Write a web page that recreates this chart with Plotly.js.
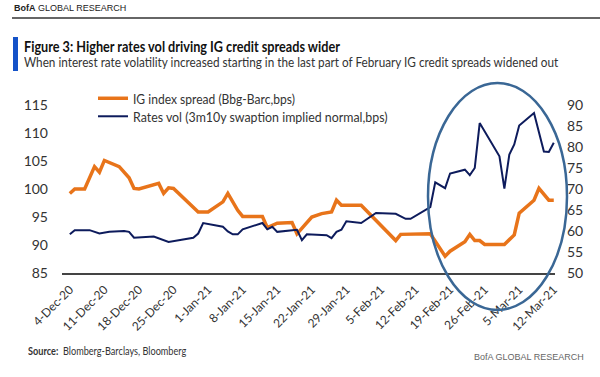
<!DOCTYPE html>
<html>
<head>
<meta charset="utf-8">
<script src="https://cdn.plot.ly/plotly-3.0.1.min.js"></script>
<style>
  html, body { margin: 0; padding: 0; background: #ffffff; }
  #wrap { position: relative; width: 600px; height: 377px; overflow: hidden; }
  #chart { position: absolute; left: 0; top: 0; width: 600px; height: 377px; }
  .txt { position: absolute; white-space: nowrap; transform-origin: 0 50%; line-height: 1; }
  #title { left: 24px; top: 39px; font-family: Lato, sans-serif; font-weight: 700; font-size: 15px; color: #111; }
  #subtitle { left: 24px; top: 56px; font-family: Lato, sans-serif; font-size: 13px; color: #333; }
  #source { left: 28px; top: 345px; font-family: Lato, sans-serif; font-size: 11px; color: #333; }
</style>
</head>
<body>
<div id="wrap">
  <div id="chart"></div>
  <div id="title" class="txt">Figure 3: Higher rates vol driving IG credit spreads wider</div>
  <div id="subtitle" class="txt">When interest rate volatility increased starting in the last part of February IG credit spreads widened out</div>
  <div id="source" class="txt"><b>Source:</b>&nbsp; Blomberg-Barclays, Bloomberg</div>
</div>
<script>
// ---------- DATA ----------
const igDates = ['2020-12-04','2020-12-05','2020-12-07','2020-12-09','2020-12-10','2020-12-11','2020-12-14','2020-12-16','2020-12-17','2020-12-18','2020-12-22','2020-12-23','2020-12-24','2020-12-25','2020-12-30','2021-01-01','2021-01-04','2021-01-05','2021-01-07','2021-01-08','2021-01-12','2021-01-13','2021-01-15','2021-01-18','2021-01-19','2021-01-22','2021-01-24','2021-01-26','2021-01-27','2021-01-28','2021-02-01','2021-02-08','2021-02-09','2021-02-15','2021-02-18','2021-02-19','2021-02-22','2021-02-23','2021-02-24','2021-02-25','2021-02-26','2021-03-02','2021-03-04','2021-03-05','2021-03-08','2021-03-09','2021-03-11','2021-03-12'];
const igSpread = [99.2,100,100,104,103,105.1,104,102,100.1,100,101,99.2,100.2,100.1,95.9,95.9,97.7,99.2,96.2,95.1,95.1,93.1,93.9,94,92,95,95.6,95.9,98,97.1,97.1,90.8,91.9,92,88,88.9,90.6,91.9,90.8,90.8,90.1,90.1,91.8,95.7,98,100.1,98,98];

const volDates = ['2020-12-04','2020-12-05','2020-12-08','2020-12-10','2020-12-12','2020-12-15','2020-12-16','2020-12-17','2020-12-21','2020-12-24','2020-12-29','2020-12-30','2020-12-31','2021-01-04','2021-01-05','2021-01-06','2021-01-07','2021-01-08','2021-01-12','2021-01-13','2021-01-14','2021-01-15','2021-01-19','2021-01-20','2021-01-21','2021-01-25','2021-01-26','2021-01-27','2021-01-28','2021-01-29','2021-02-01','2021-02-04','2021-02-08','2021-02-10','2021-02-11','2021-02-15','2021-02-16','2021-02-18','2021-02-19','2021-02-22','2021-02-23','2021-02-24','2021-02-25','2021-03-01','2021-03-02','2021-03-03','2021-03-04','2021-03-05','2021-03-08','2021-03-10','2021-03-11','2021-03-12'];
const ratesVol = [59.2,60.2,60.2,59.4,59.8,60,59.8,58.4,58.7,57.4,58.4,59.4,61.9,61,59.9,59.2,59.2,60.4,61.9,60.4,61,59.8,60.3,57.8,59.2,59,58.3,59.8,60.3,62.3,61.9,64.3,64.1,62.9,62.9,65.7,71.6,70.2,73.7,74.6,73.3,75,85.7,77.8,70.1,78.2,80.6,85.1,88.1,78.9,78.8,81];

const tickDates = ['2020-12-04','2020-12-11','2020-12-18','2020-12-25','2021-01-01','2021-01-08','2021-01-15','2021-01-22','2021-01-29','2021-02-05','2021-02-12','2021-02-19','2021-02-26','2021-03-05','2021-03-12'];
const tickLabels = ['4-Dec-20','11-Dec-20','18-Dec-20','25-Dec-20','1-Jan-21','8-Jan-21','15-Jan-21','22-Jan-21','29-Jan-21','5-Feb-21','12-Feb-21','19-Feb-21','26-Feb-21','5-Mar-21','12-Mar-21'];

const seriesNames = ['IG index spread (Bbg-Barc,bps)', 'Rates vol (3m10y swaption implied normal,bps)'];

// ---------- LAYOUT HELPERS ----------
const W = 600, H = 377;
const M = { l: 62, r: 45, t: 105, b: 104 };
const PW = W - M.l - M.r, PH = H - M.t - M.b;
const px = x => (x - M.l) / PW;          // pixel -> paper x
const py = y => (H - M.b - y) / PH;      // pixel -> paper y

const FONT = 'Lato, "Liberation Sans", sans-serif';
const ORANGE = '#e8741a';
const NAVY = '#0d1b5c';

const traces = [
  {
    x: volDates, y: ratesVol, name: seriesNames[1], yaxis: 'y2', legend: 'legend2',
    type: 'scatter', mode: 'lines',
    line: { color: NAVY, width: 2 }
  },
  {
    x: igDates, y: igSpread, name: seriesNames[0], yaxis: 'y', legend: 'legend',
    type: 'scatter', mode: 'lines',
    line: { color: ORANGE, width: 3.5 }
  }
];

const legendBase = {
  xanchor: 'left', yanchor: 'top', bgcolor: 'rgba(0,0,0,0)',
  font: { family: FONT, size: 13.5, color: '#333333' }, itemwidth: 30
};

const layout = {
  width: W, height: H,
  margin: M,
  paper_bgcolor: '#ffffff', plot_bgcolor: '#ffffff',
  font: { family: FONT, size: 12.5, color: '#333333' },
  showlegend: true,
  legend: Object.assign({}, legendBase, { x: px(93), y: py(83) }),
  legend2: Object.assign({}, legendBase, { x: px(93), y: py(101) }),
  xaxis: {
    type: 'date',
    range: ['2020-12-02 10:00', '2021-03-12 06:00'],
    tickmode: 'array', tickvals: tickDates, ticktext: tickLabels,
    tickangle: -45, ticks: '', showgrid: false, zeroline: false,
    showline: true, linecolor: '#444444', linewidth: 2,
    tickfont: { family: FONT, size: 12, color: '#333333' },
    ticklabelstandoff: 3
  },
  yaxis: {
    range: [85, 115], dtick: 5, tick0: 85,
    showgrid: false, zeroline: false, showline: false, ticks: '',
    tickfont: { family: FONT, size: 14, color: '#333333' },
    ticklabelstandoff: 13
  },
  yaxis2: {
    range: [50, 90], dtick: 5, tick0: 50,
    overlaying: 'y', side: 'right',
    showgrid: false, zeroline: false, showline: false, ticks: '',
    tickfont: { family: FONT, size: 14, color: '#333333' },
    ticklabelstandoff: 11
  },
  shapes: [
    { type: 'line', xref: 'paper', yref: 'paper', x0: px(12), x1: px(600), y0: py(18), y1: py(18),
      line: { color: '#333333', width: 1.5 } },
    { type: 'rect', xref: 'paper', yref: 'paper', x0: px(13), x1: px(18), y0: py(37), y1: py(71),
      fillcolor: '#1452c8', line: { width: 0 } },
    { type: 'circle', xref: 'paper', yref: 'paper', x0: px(428), x1: px(567), y0: py(83), y1: py(310),
      line: { color: '#3a6795', width: 2.5 }, fillcolor: 'rgba(0,0,0,0)' }
  ],
  annotations: [
    { xref: 'paper', yref: 'paper', x: px(12), y: py(8), xanchor: 'left', yanchor: 'middle', showarrow: false,
      text: '<b>BofA</b> GLOBAL RESEARCH', font: { family: '"Liberation Sans", sans-serif', size: 9, color: '#222222' } },
    { xref: 'paper', yref: 'paper', x: px(586), y: py(357), xanchor: 'right', yanchor: 'middle', showarrow: false,
      text: 'BofA GLOBAL RESEARCH',
      font: { family: '"Liberation Sans", sans-serif', size: 9, color: '#666666' } }
  ]
};

function fitWidth(el, target) {
  const w = el.scrollWidth;
  if (w > 0) el.style.transform = 'scaleX(' + (target / w) + ')';
}

// condense the legend labels to the reference widths
const legendTargets = [162, 255];
function condenseLegend() {
  const gd = document.getElementById('chart');
  gd.querySelectorAll('text.legendtext, text.legend2text').forEach(t => {
    const txt = t.textContent || '';
    let tw = null;
    if (txt.indexOf('IG index') === 0) tw = legendTargets[0];
    else if (txt.indexOf('Rates vol') === 0) tw = legendTargets[1];
    if (!tw) return;
    t.removeAttribute('transform');
    const w = t.getComputedTextLength();
    if (!w) return;
    const sx = tw / w;
    const x0 = parseFloat(t.getAttribute('x')) || 40;
    t.setAttribute('transform', 'matrix(' + sx + ',0,0,1,' + (x0 * (1 - sx)) + ',0)');
  });
}

Plotly.newPlot('chart', traces, layout, { staticPlot: true, displayModeBar: false }).then(gd => {
  fitWidth(document.getElementById('title'), 316);
  fitWidth(document.getElementById('subtitle'), 534);
  fitWidth(document.getElementById('source'), 158);
  condenseLegend();
  gd.on('plotly_afterplot', condenseLegend);
});
</script>
</body>
</html>
